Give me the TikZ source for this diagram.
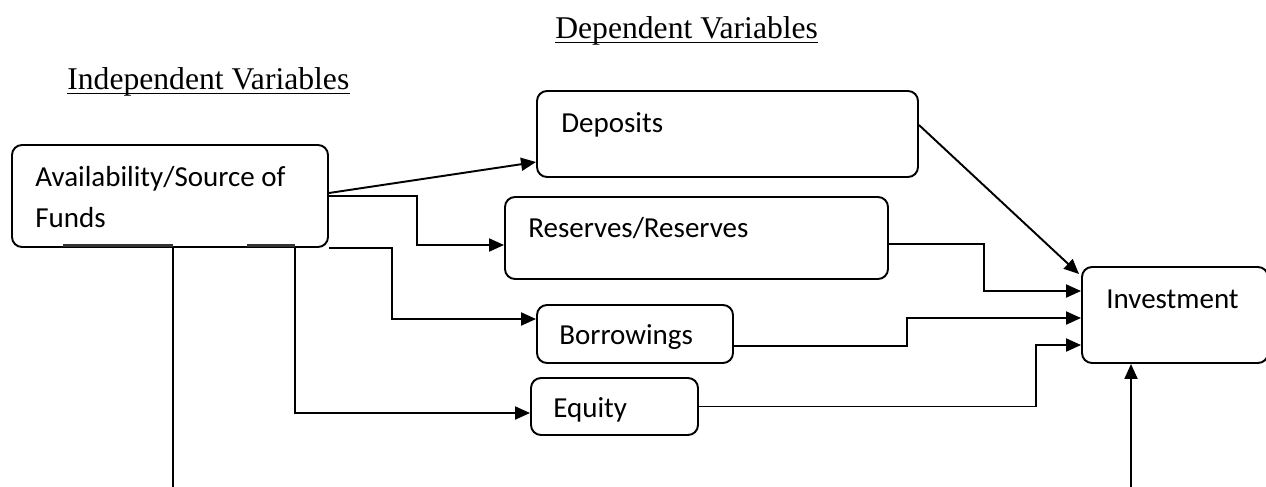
\documentclass[tikz,border=0pt]{standalone}
\usepackage{fontspec}
\setmainfont{Liberation Serif}
\newfontfamily\boxfont{Carlito}
\usetikzlibrary{arrows.meta}

\begin{document}
\begin{tikzpicture}[
  box/.style={draw, line width=1.1pt, rounded corners=0.2cm, inner sep=0pt},
  txt/.style={inner sep=0pt, anchor=base west, align=left, font=\boxfont\fontsize{16.5}{22.8}\selectfont},
  title/.style={inner sep=0pt, anchor=base west, font=\fontsize{18}{22}\selectfont},
  con/.style={line width=1.1pt},
  arr/.style={line width=1.1pt, -{Triangle[length=0.3cm,width=0.26cm]}}
]
\useasboundingbox (0,0) rectangle (25.32,-9.72);

% titles
\node[title] (dvar) at (11.1,-0.76) {Dependent Variables};
\node[title] (ivar) at (1.34,-1.78) {Independent Variables};
\draw[line width=0.9pt] ([yshift=-0.09cm]dvar.base west) -- ([yshift=-0.09cm]dvar.base east);
\draw[line width=0.9pt] ([yshift=-0.09cm]ivar.base west) -- ([yshift=-0.09cm]ivar.base east);

% boxes
\node[box, minimum width=6.32cm, minimum height=2.04cm] (avail) at (3.40,-3.92) {};
\node[box, minimum width=7.62cm, minimum height=1.72cm] (dep) at (14.55,-2.68) {};
\node[box, minimum width=7.66cm, minimum height=1.64cm] (res) at (13.93,-4.76) {};
\node[box, minimum width=3.92cm, minimum height=1.16cm] (bor) at (12.70,-6.68) {};
\node[box, minimum width=3.34cm, minimum height=1.14cm] (equ) at (12.29,-8.13) {};
\node[box, minimum width=3.72cm, minimum height=1.92cm] (inv) at (23.50,-6.30) {};

% box texts
\node[txt] (avail-t) at (0.7,-4.54) {Availability/Source of\\Funds};
\node[txt] (dep-t) at (11.22,-2.64) {Deposits};
\node[txt] (res-t) at (10.56,-4.74) {Reserves/Reserves};
\node[txt] (bor-t) at (11.18,-6.88) {Borrowings};
\node[txt] (equ-t) at (11.06,-8.34) {Equity};
\node[txt] (inv-t) at (22.12,-6.16) {Investment};

% bends
\coordinate (r1) at (8.34,-4.9);
\coordinate (b1) at (7.84,-6.38);
\coordinate (e1) at (5.9,-8.26);
\coordinate (l1) at (3.46,-9.9);
\coordinate (r2) at (19.68,-5.82);
\coordinate (b2) at (18.14,-6.36);
\coordinate (e2) at (20.72,-6.9);
\coordinate (l2) at (22.62,-9.9);

% marks on the bottom edge
\draw[line width=1.6pt, black!80] (1.26,-4.91) -- (l1 |- 0,-4.91);
\draw[line width=1.6pt, black!80] (4.94,-4.91) -- (e1 |- 0,-4.91);

% left side
\draw[arr] ([yshift=0.06cm]avail.east) -- ([yshift=-0.56cm]dep.west);
\draw[arr] (avail.east) -| (r1) -- (r1 -| res.west);
\draw[arr] (avail.south east) -| (b1) -- (b1 -| bor.west);
\draw[arr] (e1 |- avail.south) -- (e1) -- (e1 -| equ.west);
\draw[con] (l1 |- avail.south) -- (l1);

% right side
\draw[arr] ([yshift=0.18cm]dep.east) -- ([xshift=-0.04cm,yshift=-0.16cm]inv.north west);
\draw[arr] ([xshift=-0.04cm,yshift=-0.12cm]res.east) -| (r2) -- (r2 -| inv.west);
\draw[arr] ([yshift=-0.24cm]bor.east) -| (b2) -- (b2 -| inv.west);
\draw[arr] (equ.east) -| (e2) -- (e2 -| inv.west);
\draw[arr] (l2) -- (l2 |- inv.south);
\end{tikzpicture}
\end{document}
